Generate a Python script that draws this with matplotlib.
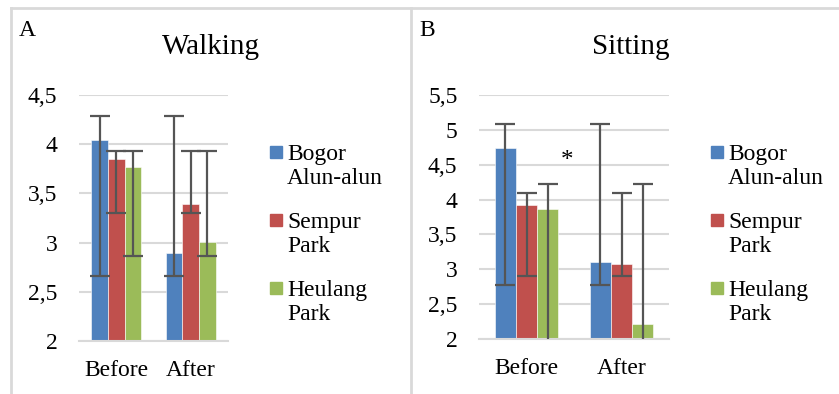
import numpy as np
import matplotlib
matplotlib.use("Agg")
import matplotlib.pyplot as plt
from matplotlib.patches import Rectangle
from matplotlib.lines import Line2D

# Data
periods = ["Before", "After"]
parks = ["Bogor\nAlun-alun", "Sempur\nPark", "Heulang\nPark"]
colors = ["#4F81BD", "#C0504D", "#9BBB59"]

walk_bogor = [4.04, 2.89]
walk_sempur = [3.85, 3.39]
walk_heulang = [3.77, 3.01]
walk_low = [[2.66, 2.66], [3.30, 3.30], [2.86, 2.86]]
walk_high = [[4.29, 4.29], [3.93, 3.93], [3.93, 3.93]]
walk_ticks = ["2", "2,5", "3", "3,5", "4", "4,5"]

sit_bogor = [4.74, 3.11]
sit_sempur = [3.92, 3.08]
sit_heulang = [3.87, 2.22]
sit_low = [[2.78, 2.78], [2.90, 2.90], [1.52, 1.52]]
sit_high = [[5.08, 5.08], [4.09, 4.09], [4.22, 4.22]]
sit_ticks = ["2", "2,5", "3", "3,5", "4", "4,5", "5", "5,5"]

W, H = 839, 394
plt.rcParams["font.family"] = ["Liberation Serif", "DejaVu Serif"]
fig = plt.figure(figsize=(W / 100, H / 100), dpi=100)


def fx(x):
  return x / W


def fy(y):
  return 1 - y / H


def draw_panel(rect, series, lows, highs, ticks, ymax, title, letter, letter_xy, title_x, legend_x):
  left, top, right, bottom = rect
  ax = fig.add_axes([fx(left), fy(bottom), fx(right - left), (bottom - top) / H])
  x = np.arange(len(periods))
  width = 0.224
  for i, vals in enumerate(series):
    vals = np.array(vals)
    pos = x + (i - 1) * width
    ax.bar(pos, vals - 2, width, bottom=2, color=colors[i], edgecolor="white",
           linewidth=0.4, zorder=2)
    lo = np.array(lows[i])
    hi = np.array(highs[i])
    ax.errorbar(pos, vals, yerr=[vals - lo, hi - vals], fmt="none",
                ecolor="#555555", elinewidth=1.6, capsize=7.2, capthick=1.6, zorder=3)

  ax.set_xlim(-0.5, 1.5)
  ax.set_ylim(2, ymax)
  ax.set_yticks(np.arange(2, ymax + 0.01, 0.5))
  ax.set_yticklabels(ticks)
  ax.set_xticks(x)
  ax.set_xticklabels(periods)
  ax.tick_params(axis="y", length=0, pad=15.5, labelsize=17)
  ax.tick_params(axis="x", length=0, pad=14, labelsize=17)
  ax.grid(axis="y", color="#D9D9D9", linewidth=1.5, zorder=0)
  for s in ["top", "right", "left"]:
    ax.spines[s].set_visible(False)
  ax.spines["bottom"].set_color("#D9D9D9")
  ax.spines["bottom"].set_linewidth(1.5)
  ax.set_axisbelow(True)

  fig.text(fx(title_x), fy(47), title, fontsize=21, ha="center", va="center")
  fig.text(fx(letter_xy[0]), fy(letter_xy[1]), letter, fontsize=17, ha="left", va="center")

  # legend, square aligned with the first line of each label
  for i, lab in enumerate(parks):
    yc = 152 + i * 68
    fig.add_artist(Rectangle((fx(legend_x), fy(yc + 6)), fx(12), 12 / H,
                             transform=fig.transFigure, color=colors[i]))
    fig.text(fx(legend_x + 17), fy(yc - 8), lab, fontsize=17, ha="left", va="top",
             linespacing=1.2)
  return ax


draw_panel((79, 95, 228, 341), [walk_bogor, walk_sempur, walk_heulang],
           walk_low, walk_high, walk_ticks, 4.5, "Walking", "A", (19, 30), 211, 270)
ax2 = draw_panel((479, 95, 669, 339), [sit_bogor, sit_sempur, sit_heulang],
                 sit_low, sit_high, sit_ticks, 5.5, "Sitting", "B", (419, 30), 631, 711)
ax2.text(0.43, 4.55, "*", fontsize=18, ha="center", va="center")

# panel frame lines
frame = "#D9D9D9"
fig.add_artist(Line2D([fx(11), 1], [fy(8), fy(8)], transform=fig.transFigure, color=frame, lw=2))
fig.add_artist(Line2D([fx(11), fx(11)], [fy(8), 0], transform=fig.transFigure, color=frame, lw=2))
fig.add_artist(Line2D([fx(411), fx(411)], [fy(8), 0], transform=fig.transFigure, color=frame, lw=2))

fig.savefig("out.png", dpi=100)
